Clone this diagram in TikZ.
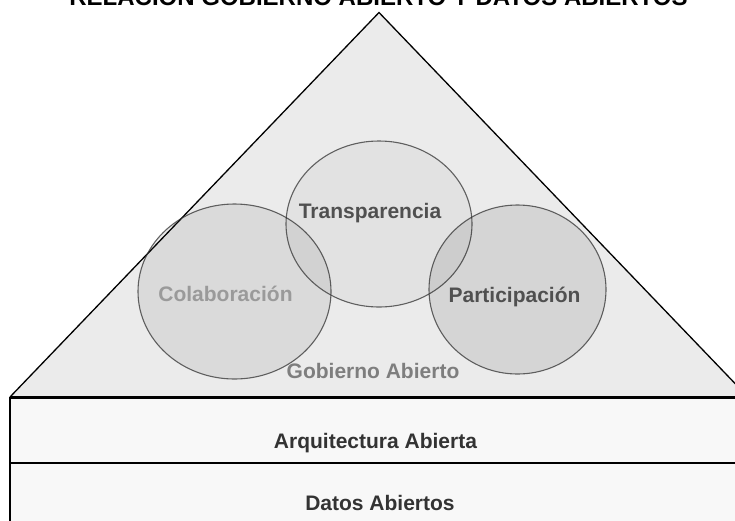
\documentclass[tikz,border=0pt]{standalone}
\usepackage{fontspec}
\setmainfont{Liberation Sans}
\usetikzlibrary{shapes.geometric,positioning}

\definecolor{pyrfill}{HTML}{EBEBEB}
\definecolor{bandfill}{HTML}{F8F8F8}
\definecolor{txtdark}{HTML}{333333}
\definecolor{txtmid}{HTML}{505050}
\definecolor{txtgob}{HTML}{7E7E7E}
\definecolor{txtcol}{HTML}{9A9A9A}

\tikzset{
	venn/.style={ellipse, draw=black!80, draw opacity=0.75, line width=1.1pt, fill=black, inner sep=0pt},
	lbl/.style={anchor=base, font=\fontsize{21}{25}\selectfont\bfseries},
}

\begin{document}
\begin{tikzpicture}[x=1pt,y=-1pt]
		% Define frame
		\clip (0,0) rectangle (735,520);
		% Title
		\node[lbl, font=\fontsize{24}{28}\selectfont\bfseries] (title) at (378.5,5) {RELACIÓN GOBIERNO ABIERTO Y DATOS ABIERTOS};
		% Bands
		\coordinate (bl) at (10,397);
		\coordinate (br) at (760,397);
		\coordinate (ml) at (10,463);
		\coordinate (mr) at (760,463);
		\coordinate (dl) at (10,530);
		\fill[bandfill] (bl) rectangle (760,530);
		\draw[line width=2pt] (ml) -- (mr);
		\draw[line width=1.8pt] (bl) -- (dl);
		% Pyramid
		\coordinate (apex) at (379,12.5);
		\coordinate (pl) at (10,397);
		\coordinate (pr) at (748,397);
		\draw[fill=pyrfill, line width=1.3pt, line join=miter] (pl) -- (apex) -- (pr);
		\draw[line width=3pt] (bl) -- (br);
		% Define circles
		\node[venn, fill opacity=0.07, minimum width=193pt, minimum height=175pt] (colab) at (234.5,291.5) {};
		\node[venn, fill opacity=0.035, minimum width=186pt, minimum height=166pt] (transp) at (379,224) {};
		\node[venn, fill opacity=0.09, minimum width=177pt, minimum height=169pt] (partic) at (517.5,289.5) {};
		% Labels
		\node[lbl, text=txtcol] (colabtxt) at (225.5,301) {Colaboración};
		\node[lbl, text=txtmid] (transptxt) at (370,218) {Transparencia};
		\node[lbl, text=txtmid] (partictxt) at (514.5,302) {Participación};
		\node[lbl, text=txtgob] (gob) at (373,378) {Gobierno Abierto};
		\node[lbl, text=txtdark] (arq) at (375.5,448) {Arquitectura Abierta};
		\node[lbl, text=txtdark] (datos) at (380,510) {Datos Abiertos};
	\end{tikzpicture}
\end{document}
